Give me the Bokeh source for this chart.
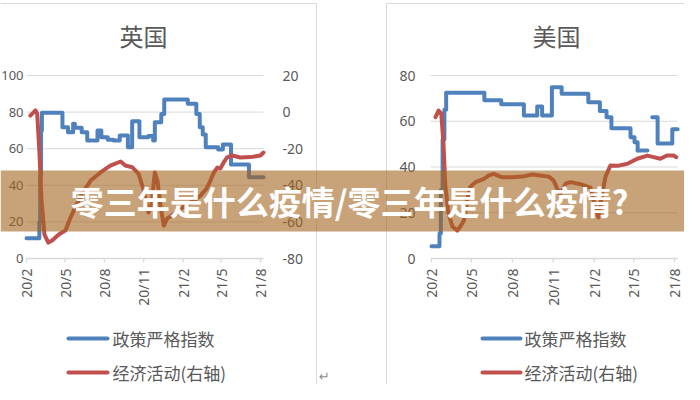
import numpy as np
import pandas as pd
from bokeh.plotting import figure
from bokeh.models import Range1d, ColumnDataSource
from bokeh.core.properties import value
from bokeh.embed import file_html
from bokeh.resources import INLINE

# ---------------- data ----------------
TITLES = ["英国", "美国"]
LEGEND_LABELS = ["政策严格指数", "经济活动(右轴)"]
BANNER = "零三年是什么疫情/零三年是什么疫情?"

X_TICK_DATES = ["2020-02-01", "2020-05-01", "2020-08-01", "2020-11-01",
                "2021-02-01", "2021-05-01", "2021-08-01"]
X_TICK_LABELS = ["20/2", "20/5", "20/8", "20/11", "21/2", "21/5", "21/8"]

UK_LEFT_TICKS = [0, 20, 40, 60, 80, 100]
UK_RIGHT_TICKS = [20, 0, -20, -40, -60, -80]
US_LEFT_TICKS = [0, 20, 40, 60, 80]
US_RIGHT_TICKS = [20, 0, -20, -40, -60]

uk_policy_dates = ["2020-02-01", "2020-03-02", "2020-03-04", "2020-03-06", "2020-03-08",
                   "2020-04-25", "2020-05-08", "2020-05-20", "2020-05-24", "2020-06-09",
                   "2020-06-22", "2020-07-16", "2020-07-25", "2020-08-09", "2020-08-22",
                   "2020-09-06", "2020-09-25", "2020-10-05", "2020-10-22", "2020-11-12",
                   "2020-11-23", "2020-11-27", "2020-12-12", "2020-12-19", "2021-02-12",
                   "2021-03-04", "2021-03-12", "2021-03-19", "2021-03-26", "2021-04-24",
                   "2021-05-05", "2021-05-24", "2021-07-05", "2021-08-08"]
uk_policy = [11.1, 20, 45, 70, 79.6,
             71.7, 69.0, 73.7, 71.4, 69.0,
             64.5, 70.0, 66.3, 64.9, 64.5,
             67.2, 60.8, 75.0, 66.3, 67.0,
             64.5, 74.5, 79.0, 86.9, 84.5,
             79.0, 71.7, 67.8, 60.8, 59.6,
             62.3, 51.4, 44.4, 44.4]

uk_econ_dates = ["2020-02-10", "2020-02-22", "2020-02-26", "2020-03-02", "2020-03-07",
                 "2020-03-14", "2020-03-23", "2020-04-01", "2020-04-11", "2020-04-20",
                 "2020-05-02", "2020-05-14", "2020-05-25", "2020-06-10", "2020-06-30",
                 "2020-07-23", "2020-08-15", "2020-09-08", "2020-09-19", "2020-10-05",
                 "2020-10-20", "2020-11-01", "2020-11-12", "2020-11-19", "2020-11-27",
                 "2020-12-03", "2020-12-10", "2020-12-18", "2020-12-26", "2021-01-06",
                 "2021-01-18", "2021-01-26", "2021-02-18", "2021-03-14", "2021-03-28",
                 "2021-04-06", "2021-04-14", "2021-04-22", "2021-04-29", "2021-05-07",
                 "2021-05-15", "2021-05-27", "2021-06-15", "2021-07-09", "2021-08-01",
                 "2021-08-08"]
uk_econ = [-1.9, 0.9, -0.8, -21.0, -48.0,
           -67.0, -71.3, -70.2, -68.0, -66.3,
           -64.7, -57.6, -52.1, -44.5, -37.4,
           -33.0, -29.2, -27.0, -29.2, -30.1,
           -33.7, -42.8, -54.9, -51.0, -33.0,
           -37.4, -51.0, -62.0, -58.1, -56.5,
           -54.7, -52.8, -49.4, -45.6, -41.7,
           -37.4, -33.0, -30.3, -30.8, -27.5,
           -24.8, -23.7, -24.8, -24.6, -23.7,
           -22.1]

us_policy_dates = ["2020-02-01", "2020-02-19", "2020-02-22", "2020-02-26", "2020-03-01",
                   "2020-03-05", "2020-05-30", "2020-07-07", "2020-08-27", "2020-09-26",
                   "2020-10-07", "2020-10-29", "2020-11-20", "2021-01-19", "2021-02-14",
                   "2021-03-01", "2021-03-12", "2021-04-24", "2021-05-03", "2021-05-10",
                   "2021-06-01", "2021-06-12", "2021-06-24", "2021-07-27", "2021-08-08"]
us_policy = [5.4, 10.9, 30.0, 52.0, 65.0,
             72.5, 69.2, 67.4, 62.5, 66.5,
             62.5, 74.9, 72.0, 68.3, 64.5,
             61.8, 56.9, 53.0, 50.8, 47.2,
             np.nan, 61.8, 50.3, 56.5, 56.5]

us_econ_dates = ["2020-02-10", "2020-02-17", "2020-02-23", "2020-02-28", "2020-03-03",
                 "2020-03-10", "2020-03-19", "2020-03-30", "2020-04-06", "2020-04-14",
                 "2020-04-21", "2020-04-28", "2020-05-10", "2020-05-29", "2020-06-09",
                 "2020-06-20", "2020-07-09", "2020-08-01", "2020-08-23", "2020-09-15",
                 "2020-10-03", "2020-10-22", "2020-11-02", "2020-11-10", "2020-11-17",
                 "2020-11-29", "2020-12-10", "2021-01-01", "2021-01-24", "2021-02-04",
                 "2021-02-11", "2021-02-18", "2021-02-27", "2021-03-10", "2021-03-26",
                 "2021-04-17", "2021-05-09", "2021-06-01", "2021-06-15", "2021-06-30",
                 "2021-07-15", "2021-07-30", "2021-08-05"]
us_econ = [1.8, 4.7, 3.3, -10.0, -28.0,
           -40.0, -46.0, -47.8, -46.0, -43.4,
           -34.6, -28.8, -26.6, -25.2, -23.7,
           -23.0, -24.5, -24.5, -24.2, -23.3,
           -23.7, -24.2, -25.9, -29.5, -31.7,
           -27.3, -26.6, -27.5, -29.0, -38.0,
           -42.0, -33.0, -24.0, -19.3, -19.5,
           -18.6, -16.4, -15.0, -15.7, -16.4,
           -15.0, -15.0, -15.7]

# ---------------- layout (canvas pixels, y downwards) ----------------
W, H = 684, 384
BLUE, RED = "#4f81bd", "#c0504d"
GRID, TXT = "#d9d9d9", "#595959"
NUM_FONT = value("Noto Sans")
CJK_FONT = value("Noto Sans CJK SC")

PANELS = {
    "uk": dict(x_ref=(("2020-02-01", 26), ("2021-08-01", 260)), area=("2020-02-01", "2021-08-08"),
               left=((0, 258), (100, 75)), right=((-80, 258), (20, 75)),
               lticks=UK_LEFT_TICKS, rticks=UK_RIGHT_TICKS, lx=23, rx=282, lsize="13px",
               title_x=143, legend_x=(68, 107, 112),
               policy=(uk_policy_dates, uk_policy), econ=(uk_econ_dates, uk_econ)),
    "us": dict(x_ref=(("2020-02-01", 431), ("2021-08-01", 674)), area=("2020-01-30", "2021-08-08"),
               left=((0, 258), (80, 75)), right=((-60, 258), (20, 75)),
               lticks=US_LEFT_TICKS, rticks=None, lx=415, rx=693, lsize="14px",
               title_x=556, legend_x=(482, 520, 524),
               policy=(us_policy_dates, us_policy), econ=(us_econ_dates, us_econ)),
}
AXIS_Y, TICK_LEN, XLABEL_Y = 258, 4, 268
TITLE_Y, LEG_Y = 35, (338, 372)


def ms(d):
    return pd.Timestamp(d).value / 1e6


def lin(v0, p0, v1, p1, q):
    return v0 + (q - p0) * (v1 - v0) / (p1 - p0)


p = figure(width=W, height=H, x_range=Range1d(0, W), y_range=Range1d(H, 0),
           min_border=0, output_backend="svg", toolbar_location=None,
           x_axis_type=None, y_axis_type=None, background_fill_color="white")
p.outline_line_color = None

for key, cfg in PANELS.items():
    (d0, p0), (d1, p1) = cfg["x_ref"]
    a, b = ms(d0), ms(d1)
    p.extra_x_ranges[key + "x"] = Range1d(lin(a, p0, b, p1, 0), lin(a, p0, b, p1, W))
    for side in ("left", "right"):
        (v0, q0), (v1, q1) = cfg[side]
        p.extra_y_ranges[key + side] = Range1d(lin(v0, q0, v1, q1, H), lin(v0, q0, v1, q1, 0))

# panel borders (chart areas of the two embedded charts)
p.segment(x0=[316, 386, 0, 386], x1=[316, 386, 316, W], y0=[3, 3, 3, 3], y1=[H, H, 3, 3],
          line_color=GRID, line_width=1)

for key, cfg in PANELS.items():
    xr, yl, yr = key + "x", key + "left", key + "right"
    a0, a1 = pd.Timestamp(cfg["area"][0]), pd.Timestamp(cfg["area"][1])
    gv = [v for v in cfg["lticks"] if v != 0]
    p.segment(x0=[a0] * len(gv), x1=[a1] * len(gv), y0=gv, y1=gv,
              x_range_name=xr, y_range_name=yl, line_color=GRID, line_width=1)
    # category axis line + ticks
    p.segment(x0=[a0], x1=[a1], y0=[0], y1=[0], x_range_name=xr, y_range_name=yl,
              line_color=GRID, line_width=1.3)
    td = pd.to_datetime(X_TICK_DATES)
    p.segment(x0=td, x1=td, y0=[AXIS_Y] * len(td), y1=[AXIS_Y + TICK_LEN] * len(td),
              x_range_name=xr, line_color=GRID, line_width=1.3)
    p.text(x=td, y=[XLABEL_Y] * len(td), text=X_TICK_LABELS, angle=np.pi / 2,
           x_range_name=xr, text_align="right", text_baseline="middle",
           text_font=NUM_FONT, text_font_size="14px", text_color=TXT)
    # value axis labels
    lt = cfg["lticks"]
    p.text(x=[cfg["lx"]] * len(lt), y=lt, text=[str(v) for v in lt], y_range_name=yl,
           text_align="right", text_baseline="middle", text_font=NUM_FONT,
           text_font_size=cfg["lsize"], text_color=TXT)
    if cfg["rticks"]:
        rt = cfg["rticks"]
        p.text(x=[cfg["rx"]] * len(rt), y=rt, text=[str(v) for v in rt], y_range_name=yr,
               text_align="left", text_baseline="middle", text_font=NUM_FONT,
               text_font_size="14px", text_color=TXT)

    # policy stringency (step line, split at gaps)
    dates, vals = cfg["policy"]
    d = pd.to_datetime(dates)
    v = np.array(vals, dtype=float)
    seg_start = 0
    for i in range(len(v) + 1):
        if i == len(v) or np.isnan(v[i]):
            if i - seg_start > 1:
                src = ColumnDataSource(dict(x=d[seg_start:i], y=v[seg_start:i]))
                p.step(x="x", y="y", source=src, mode="after", x_range_name=xr, y_range_name=yl,
                       line_color=BLUE, line_width=4, line_join="round", line_cap="round")
            if i < len(v):
                src = ColumnDataSource(dict(x=[d[i - 1], d[i]], y=[v[i - 1], v[i - 1]]))
                p.line(x="x", y="y", source=src, x_range_name=xr, y_range_name=yl,
                       line_color=BLUE, line_width=4, line_cap="round")
            seg_start = i + 1

    # economic activity (right axis)
    dates, vals = cfg["econ"]
    src = ColumnDataSource(dict(x=pd.to_datetime(dates), y=vals))
    p.line(x="x", y="y", source=src, x_range_name=xr, y_range_name=yr,
           line_color=RED, line_width=4, line_join="round", line_cap="round")

# banner overlay
p.quad(left=[0], right=[W], top=[170], bottom=[231], fill_color="#a3641e",
       fill_alpha=0.6, line_color=None)
p.text(x=[349], y=[200], text=[BANNER], text_align="center", text_baseline="middle",
       text_font=CJK_FONT, text_font_size="33px", text_font_style="bold", text_color="white")

# titles and legends
for (key, cfg), title in zip(PANELS.items(), TITLES):
    p.text(x=[cfg["title_x"]], y=[TITLE_Y], text=[title], text_align="center",
           text_baseline="middle", text_font=CJK_FONT, text_font_size="24px", text_color=TXT)
    lx0, lx1, tx = cfg["legend_x"]
    for ly, col, lab in zip(LEG_Y, (BLUE, RED), LEGEND_LABELS):
        p.line(x=[lx0, lx1], y=[ly, ly], line_color=col, line_width=4, line_cap="round")
        p.text(x=[tx], y=[ly], text=[lab], text_align="left", text_baseline="middle",
               text_font=CJK_FONT, text_font_size="17px", text_color=TXT)

p.text(x=[324], y=[376], text=["↵"], text_align="center", text_baseline="middle",
       text_font=value("DejaVu Sans"), text_font_size="13px", text_color="#8c8c8c")

open("out.html", "w").write(file_html(p, INLINE))
